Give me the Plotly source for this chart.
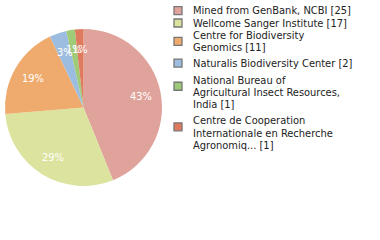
import math
import plotly.graph_objects as go

# ---- data ----
label_lines = [
    ["Mined from GenBank, NCBI [25]"],
    ["Wellcome Sanger Institute [17]"],
    ["Centre for Biodiversity", "Genomics [11]"],
    ["Naturalis Biodiversity Center [2]"],
    ["National Bureau of", "Agricultural Insect Resources,", "India [1]"],
    ["Centre de Cooperation", "Internationale en Recherche", "Agronomiq... [1]"],
]
values = [25, 17, 11, 2, 1, 1]
colors = ["#e0a39b", "#dce39e", "#efab6d", "#9dbde0", "#9fca77", "#e07a5e"]

labels = [" ".join(l) for l in label_lines]
total = sum(values)
pct_text = [f"{int(v * 100 / total)}%" for v in values]

# ---- layout constants (pixels) ----
W, H = 380, 240
CX, CY, R = 83.5, 107.5, 78.5          # pie centre / radius
LABEL_R = 0.745                          # label distance as fraction of radius
FONT = "DejaVu Sans Condensed"
FS = 11
LEG_TEXT_X = 192
LEG_BOX_X0, LEG_BOX = 174, 8
LINE_H = 12.3
LEG_FIRST = 10.7                         # centre of first legend line
LEG_GAPS = [0, 0, 3.2, 4.7, 3.7, 0]      # extra space after each item

def px(x):
    return x / W

def py(y):
    return 1 - y / H

fig = go.Figure(go.Pie(
    labels=labels,
    values=values,
    textinfo="none",
    sort=False,
    direction="clockwise",
    rotation=0,
    marker=dict(colors=colors, line=dict(width=0)),
    domain=dict(x=[px(CX - R), px(CX + R)], y=[py(CY + R), py(CY - R)]),
    hoverinfo="none",
    showlegend=False,
))

annotations = []
shapes = []

# percentage labels positioned from the slice angles
cum = 0
for v, t in zip(values, pct_text):
    mid = (cum + v / 2) / total * 2 * math.pi
    cum += v
    lx = CX + LABEL_R * R * math.sin(mid)
    ly = CY - LABEL_R * R * math.cos(mid)
    annotations.append(dict(
        x=px(lx), y=py(ly), xref="paper", yref="paper",
        text=t, showarrow=False, xanchor="center", yanchor="middle",
        font=dict(family=FONT, size=FS, color="white"),
    ))

# legend
y = LEG_FIRST
for lines, col, gap in zip(label_lines, colors, LEG_GAPS):
    box_c = y + (min(len(lines), 2) - 1) * LINE_H / 2
    shapes.append(dict(
        type="rect", xref="paper", yref="paper",
        x0=px(LEG_BOX_X0), x1=px(LEG_BOX_X0 + LEG_BOX),
        y0=py(box_c - LEG_BOX / 2), y1=py(box_c + LEG_BOX / 2),
        fillcolor=col, line=dict(color="#777777", width=1.3),
    ))
    for ln in lines:
        annotations.append(dict(
            x=px(LEG_TEXT_X), y=py(y), xref="paper", yref="paper",
            text=ln, showarrow=False, xanchor="left", yanchor="middle",
            font=dict(family=FONT, size=FS, color="#222222"),
            borderpad=0,
        ))
        y += LINE_H
    y += gap

fig.update_layout(
    width=W, height=H,
    margin=dict(l=0, r=0, t=0, b=0),
    paper_bgcolor="white",
    showlegend=False,
    annotations=annotations,
    shapes=shapes,
)

fig.write_html("out.html")
